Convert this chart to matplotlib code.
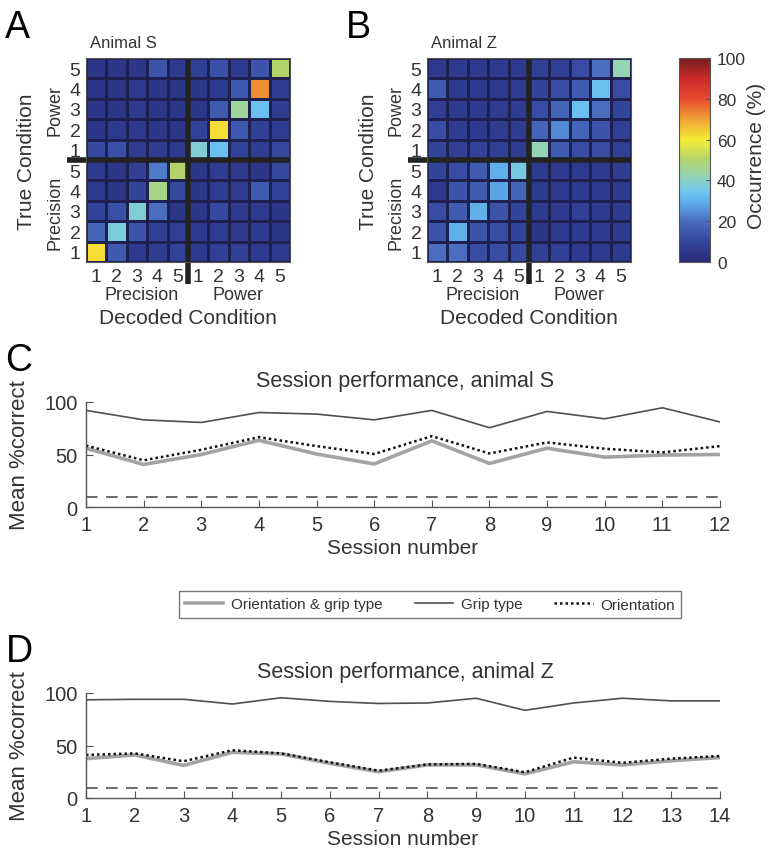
import matplotlib
matplotlib.use('Agg')
import matplotlib.pyplot as plt
from matplotlib.colors import LinearSegmentedColormap
import numpy as np

plt.rcParams['font.family'] = ['Liberation Sans', 'DejaVu Sans']

# confusion matrices, rows top->bottom: Power 5..1, Precision 5..1
# columns left->right: Precision 1..5, Power 1..5
conf_s = np.array([
    [5, 5, 5, 14, 6, 8, 13, 6, 14, 50],
    [5, 5, 6, 5, 5, 5, 6, 15, 72, 7],
    [5, 5, 6, 5, 5, 5, 16, 45, 33, 7],
    [5, 6, 6, 5, 5, 9, 62, 15, 8, 7],
    [11, 13, 7, 7, 6, 38, 33, 9, 7, 11],
    [6, 5, 8, 22, 50, 5, 7, 6, 5, 11],
    [6, 5, 10, 47, 11, 5, 7, 7, 16, 9],
    [10, 13, 38, 20, 5, 5, 11, 6, 6, 5],
    [18, 37, 14, 8, 8, 6, 7, 6, 6, 5],
    [62, 15, 6, 7, 9, 6, 8, 8, 6, 6],
])
conf_z = np.array([
    [6, 6, 6, 6, 6, 8, 8, 12, 20, 42],
    [16, 6, 6, 6, 7, 10, 12, 16, 33, 12],
    [8, 6, 6, 7, 7, 12, 18, 33, 20, 10],
    [12, 7, 6, 7, 7, 18, 24, 18, 14, 8],
    [10, 8, 9, 8, 7, 42, 16, 12, 12, 8],
    [10, 12, 16, 30, 36, 6, 6, 6, 6, 7],
    [6, 14, 16, 28, 18, 6, 6, 6, 6, 6],
    [12, 16, 30, 14, 10, 6, 6, 8, 6, 6],
    [14, 30, 14, 12, 10, 5, 6, 6, 6, 6],
    [20, 20, 12, 12, 11, 8, 8, 6, 6, 6],
])
cond_labels = ['1', '2', '3', '4', '5', '1', '2', '3', '4', '5']
row_labels = ['5', '4', '3', '2', '1', '5', '4', '3', '2', '1']

sessions_s = np.arange(1, 13)
grip_s = [92, 83, 80.5, 90, 88.5, 83, 92, 75.5, 91, 84, 94.5, 81]
orient_s = [58.5, 44.5, 54.5, 66.5, 58, 50.5, 67.5, 51, 61.5, 55.5, 52, 58]
both_s = [56, 40.5, 50, 63.5, 50.5, 41, 63, 41.5, 56, 47.5, 49.5, 50]

sessions_z = np.arange(1, 15)
grip_z = [93.5, 94, 94, 89.5, 95.5, 92, 90, 90.5, 95, 83.5, 90.5, 95, 92.5, 92.5]
orient_z = [41, 42.5, 35, 45.5, 42.5, 34, 26, 32, 32.5, 24.5, 38.5, 33.5, 37.5, 40]
both_z = [37.5, 41, 31, 43.5, 42, 33, 25, 31.5, 31.5, 23, 34.5, 31.5, 35.5, 38.5]
chance = 10

W, H = 770, 853
fig = plt.figure(figsize=(W / 100, H / 100), dpi=100)

def box(l, t, r, b):
    return [l / W, 1 - b / H, (r - l) / W, (b - t) / H]

def ftext(x, y, s, **kw):
    fig.text(x / W, 1 - y / H, s, **kw)

cmap = LinearSegmentedColormap.from_list('mjet', [
    (0.00, '#282a78'), (0.10, '#33459c'), (0.20, '#4a6dc0'),
    (0.28, '#5aa6e6'), (0.34, '#6cc6f0'), (0.42, '#94d4b4'),
    (0.50, '#b2d46c'), (0.60, '#f6ec36'), (0.70, '#f0a236'),
    (0.80, '#e64a2e'), (0.90, '#cc2a2a'), (1.00, '#7a1e1e')])

txt = '#333333'

def heatmap(ax, data, xoff, name, letter):
    mesh = ax.pcolormesh(np.arange(11), np.arange(11), data, cmap=cmap,
                         vmin=0, vmax=100, edgecolors='#1e2150', linewidth=0.8)
    ax.set_xlim(0, 10)
    ax.set_ylim(10, 0)
    ax.set_xticks(np.arange(10) + 0.5)
    ax.set_xticklabels(cond_labels)
    ax.set_yticks(np.arange(10) + 0.5)
    ax.set_yticklabels(row_labels)
    ax.tick_params(length=0, labelsize=14, labelcolor=txt, pad=4)
    for sp in ax.spines.values():
        sp.set_color('#555555')
        sp.set_linewidth(0.8)
    # separators between precision and power blocks
    ax.plot([-0.93, 10], [5, 5], color='#222222', lw=4, clip_on=False,
            solid_capstyle='butt')
    ax.plot([5, 5], [0, 11.1], color='#222222', lw=4, clip_on=False,
            solid_capstyle='butt')
    ftext(xoff - 69, 28, letter, fontsize=27, ha='center', va='center')
    ftext(xoff + 4, 43, name, fontsize=12, color=txt, ha='left', va='center')
    ftext(xoff - 31, 110, 'Power', fontsize=13, color=txt, rotation=90,
          ha='center', va='center')
    ftext(xoff - 31, 213, 'Precision', fontsize=13, color=txt, rotation=90,
          ha='center', va='center')
    ftext(xoff - 59, 162, 'True Condition', fontsize=15, color=txt, rotation=90,
          ha='center', va='center')
    ftext(xoff + 56, 296, 'Precision', fontsize=13, color=txt, ha='center', va='center')
    ftext(xoff + 152, 296, 'Power', fontsize=13, color=txt, ha='center', va='center')
    ftext(xoff + 102, 319, 'Decoded Condition', fontsize=15, color=txt,
          ha='center', va='center')
    return mesh

ax_a = fig.add_axes(box(86, 59, 290, 263))
mesh = heatmap(ax_a, conf_s, 86, 'Animal S', 'A')
ax_b = fig.add_axes(box(427, 59, 631, 263))
heatmap(ax_b, conf_z, 427, 'Animal Z', 'B')

cax = fig.add_axes(box(679, 59, 710, 263))
cb = fig.colorbar(mesh, cax=cax, ticks=[0, 20, 40, 60, 80, 100])
cb.outline.set_edgecolor('#555555')
cb.outline.set_linewidth(0.8)
cax.tick_params(labelsize=12.5, labelcolor=txt, length=3, direction='in',
                color='#555555', pad=5)
ftext(757, 156, 'Occurrence (%)', fontsize=15, color=txt, rotation=90,
      ha='center', va='center')

def session_plot(ax, sess, both, grip, orient, title, letter, top):
    l1, = ax.plot(sess, both, color='#a3a3a3', lw=2.6, label='Orientation & grip type')
    l2, = ax.plot(sess, grip, color='#505050', lw=1.2, label='Grip type')
    l3, = ax.plot(sess, orient, color='#111111', lw=1.8, ls=(0, (1, 1.2)),
                  label='Orientation')
    ax.axhline(chance, color='#505050', lw=1.2, ls=(0, (7, 5)))
    ax.set_xlim(sess[0], sess[-1])
    ax.set_ylim(0, 100)
    ax.set_xticks(sess)
    ax.set_yticks([0, 50, 100])
    for sp in ['top', 'right']:
        ax.spines[sp].set_visible(False)
    for sp in ['left', 'bottom']:
        ax.spines[sp].set_color('#555555')
        ax.spines[sp].set_linewidth(1.0)
    ax.tick_params(direction='in', length=5, color='#555555', labelsize=14.5,
                   labelcolor=txt, pad=6)
    ax.set_xlabel('Session number', fontsize=15, color=txt)
    ax.xaxis.set_label_coords(0.5, -0.30)
    ax.set_ylabel('Mean %correct', fontsize=16, color=txt)
    ax.yaxis.set_label_coords(-0.088, 0.5)
    ftext(405, top - 21, title, fontsize=15.5, color=txt, ha='center', va='center')
    ftext(19, top - 42, letter, fontsize=27, ha='center', va='center')
    return [l1, l2, l3]

ax_c = fig.add_axes(box(86, 403, 720, 508))
handles = session_plot(ax_c, sessions_s, both_s, grip_s, orient_s,
                       'Session performance, animal S', 'C', 403)
ax_d = fig.add_axes(box(86, 694, 720, 799))
session_plot(ax_d, sessions_z, both_z, grip_z, orient_z,
             'Session performance, animal Z', 'D', 694)

leg = fig.legend(handles=handles, loc='center', ncol=3,
                 bbox_to_anchor=(430 / W, 1 - 605.5 / H), fontsize=11,
                 frameon=True, fancybox=False, handlelength=2.5,
                 handletextpad=0.5, columnspacing=2.1, borderpad=0.4)
leg.get_frame().set_edgecolor('#555555')
leg.get_frame().set_linewidth(1.0)
for t in leg.get_texts():
    t.set_color(txt)

fig.savefig('out.png', dpi=100)
